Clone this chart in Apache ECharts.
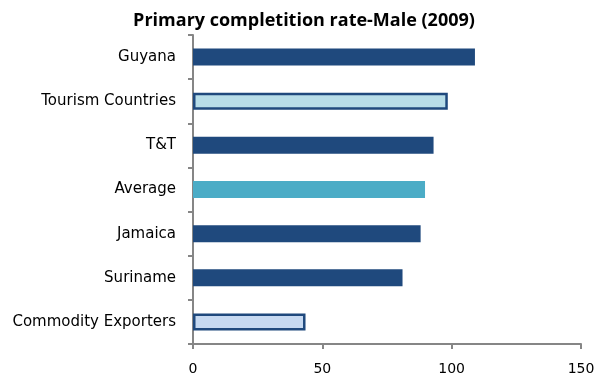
<!DOCTYPE html>
<html>
<head>
<meta charset="utf-8">
<script src="https://cdn.jsdelivr.net/npm/echarts@6/dist/echarts.min.js"></script>
<style>
  html, body { margin: 0; padding: 0; background: #fff; }
  #chart { width: 608px; height: 383px; }
</style>
</head>
<body>
<div id="chart"></div>
<script>
// data, top to bottom as shown
var countries = ["Guyana", "Tourism Countries", "T&T", "Average", "Jamaica", "Suriname", "Commodity Exporters"];
var rates = [109, 98.5, 93, 89.7, 88, 81, 43.5];
var xTicks = [0, 50, 100, 150];

// bar styling per category
var fills = ["#1F497D", "#B7DDE8", "#1F497D", "#4BACC6", "#1F497D", "#1F497D", "#C6D9F1"];
var outlined = [false, true, false, false, false, false, true];

var chart = echarts.init(document.getElementById("chart"));
var barData = [];
for (let i = 0; i < rates.length; i++) {
  barData.push({
    value: rates[i],
    itemStyle: {
      color: fills[i],
      borderColor: outlined[i] ? "#1F497D" : "rgba(0,0,0,0)",
      borderWidth: outlined[i] ? 2.5 : 0
    }
  });
}

var option = {
  animation: false,
  backgroundColor: "#fff",
  title: {
    text: "Primary completition rate-Male (2009)",
    left: "center",
    top: 7,
    textStyle: { fontFamily: "Open Sans", fontSize: 18, fontWeight: "bold", color: "#000" }
  },
  grid: { left: 193, right: 27, top: 35, bottom: 39 },
  xAxis: {
    type: "value",
    min: xTicks[0],
    max: xTicks[xTicks.length - 1],
    interval: 50,
    splitLine: { show: false },
    axisLine: { show: true, lineStyle: { color: "#868686", width: 2 } },
    axisTick: { show: true, length: 5, lineStyle: { color: "#868686", width: 2 } },
    axisLabel: { margin: 18, fontFamily: "DejaVu Sans", fontSize: 14, color: "#000" }
  },
  yAxis: {
    type: "category",
    inverse: true,
    data: countries,
    axisLine: { show: true, lineStyle: { color: "#868686", width: 2 } },
    axisTick: { show: true, length: 5, lineStyle: { color: "#868686", width: 2 } },
    axisLabel: { margin: 17, fontFamily: "DejaVu Sans", fontSize: 15, color: "#000" }
  },
  series: [{
    type: "bar",
    barWidth: 17,
    data: barData
  }]
};
chart.setOption(option);
</script>
</body>
</html>
